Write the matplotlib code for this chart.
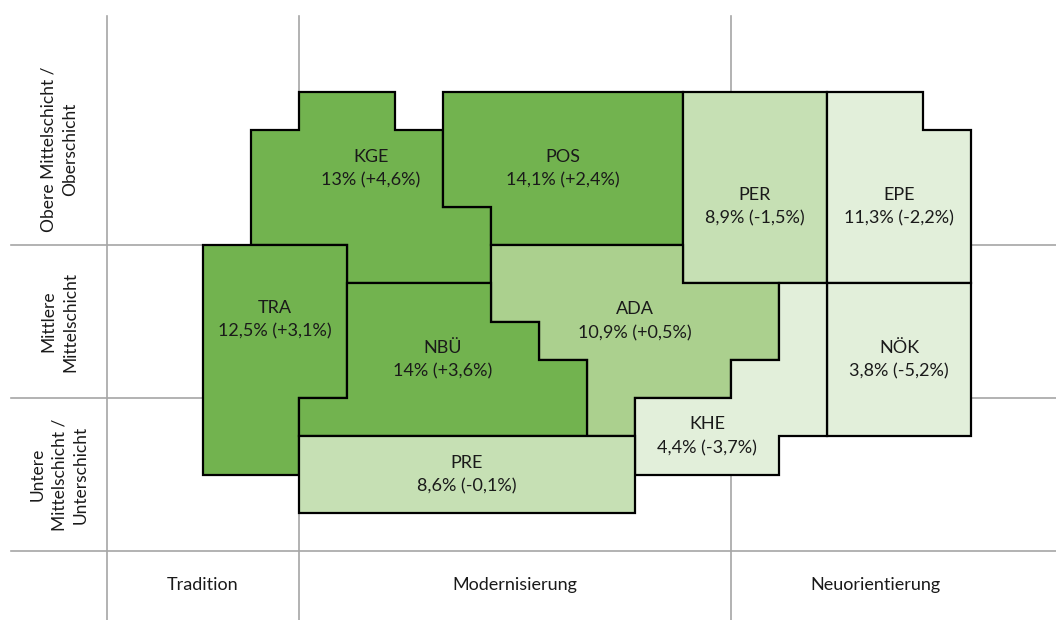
import matplotlib.pyplot as plt
from matplotlib.patches import Polygon

# Milieus: Kürzel, Anteil (%), Veränderung (%-Punkte)
names = ["KGE", "POS", "PER", "EPE", "TRA", "ADA", "NBÜ", "NÖK", "KHE", "PRE"]
shares = [13.0, 14.1, 8.9, 11.3, 12.5, 10.9, 14.0, 3.8, 4.4, 8.6]
changes = [4.6, 2.4, -1.5, -2.2, 3.1, 0.5, 3.6, -5.2, -3.7, -0.1]

col_labels = ["Tradition", "Modernisierung", "Neuorientierung"]
row_labels = ["Obere Mittelschicht /\nOberschicht",
              "Mittlere\nMittelschicht",
              "Untere\nMittelschicht /\nUnterschicht"]

# Umrisse auf einem Raster (Spalte k, Zeile j; j wächst nach unten)
outlines = {
    "KGE": [(2, 0), (4, 0), (4, 1), (5, 1), (5, 3), (6, 3), (6, 5), (3, 5), (3, 4), (1, 4), (1, 1), (2, 1)],
    "POS": [(5, 0), (10, 0), (10, 4), (6, 4), (6, 3), (5, 3)],
    "PER": [(10, 0), (13, 0), (13, 5), (10, 5)],
    "EPE": [(13, 0), (15, 0), (15, 1), (16, 1), (16, 5), (13, 5)],
    "TRA": [(0, 4), (3, 4), (3, 8), (2, 8), (2, 10), (0, 10)],
    "ADA": [(6, 4), (10, 4), (10, 5), (12, 5), (12, 7), (11, 7), (11, 8), (9, 8), (9, 9), (8, 9),
            (8, 7), (7, 7), (7, 6), (6, 6)],
    "NBÜ": [(3, 5), (6, 5), (6, 6), (7, 6), (7, 7), (8, 7), (8, 9), (2, 9), (2, 8), (3, 8)],
    "NÖK": [(13, 5), (16, 5), (16, 9), (13, 9)],
    "KHE": [(12, 5), (13, 5), (13, 9), (12, 9), (12, 10), (9, 10), (9, 8), (11, 8), (11, 7), (12, 7)],
    "PRE": [(2, 9), (9, 9), (9, 11), (2, 11)],
}
label_pos = {
    "KGE": (3.5, 2.0), "POS": (7.5, 2.0), "PER": (11.5, 3.0), "EPE": (14.5, 3.0),
    "TRA": (1.5, 5.95), "ADA": (9.0, 6.0), "NBÜ": (5.0, 7.0), "NÖK": (14.5, 7.0),
    "KHE": (10.5, 9.0), "PRE": (5.5, 10.0),
}


def tier_color(d):
    if d > 2:
        return "#72B34F"
    if d >= 0:
        return "#ABD08E"
    if d >= -2:
        return "#C6E0B4"
    return "#E2EFDA"


def de(v):
    return f"{v:g}".replace(".", ",")


plt.rcParams["font.family"] = ["Lato", "DejaVu Sans"]
fig = plt.figure(figsize=(10.56, 6.2), dpi=100)
ax = fig.add_axes([0, 0, 1, 1])
x0, x1 = -203 / 48, (1056 - 203) / 48
y0, y1 = -92 / 38.25, (620 - 92) / 38.25
ax.set_xlim(x0, x1)
ax.set_ylim(y1, y0)
ax.axis("off")

grey = "#A6A6A6"
for k in (-2, 2, 11):
    ax.plot([k, k], [-2, y1], color=grey, lw=1.2, zorder=1)
for j in (4, 8, 12):
    ax.plot([-4, x1], [j, j], color=grey, lw=1.2, zorder=1)

for name, share, d in zip(names, shares, changes):
    poly = Polygon(outlines[name], closed=True, facecolor=tier_color(d),
                   edgecolor="black", lw=1.6, joinstyle="miter", zorder=2)
    ax.add_patch(poly)
    sign = "+" if d >= 0 else "-"
    cx, cy = label_pos[name]
    ax.text(cx, cy, f"{name}\n{de(share)}% ({sign}{de(abs(d))}%)", ha="center", va="center",
            fontsize=13, color="#1a1a1a", linespacing=1.6, zorder=3)

for lab, cx in zip(col_labels, [0, 6.5, 14.0]):
    ax.text(cx, 12.9, lab, ha="center", va="center", fontsize=13, color="#1a1a1a")
for lab, cy in zip(row_labels, [1.49, 6.0, 10.0]):
    ax.text(-3.0, cy, lab, ha="center", va="center", rotation=90, fontsize=12.5,
            color="#1a1a1a", linespacing=1.45, multialignment="center")

fig.savefig("out.png", dpi=100)
